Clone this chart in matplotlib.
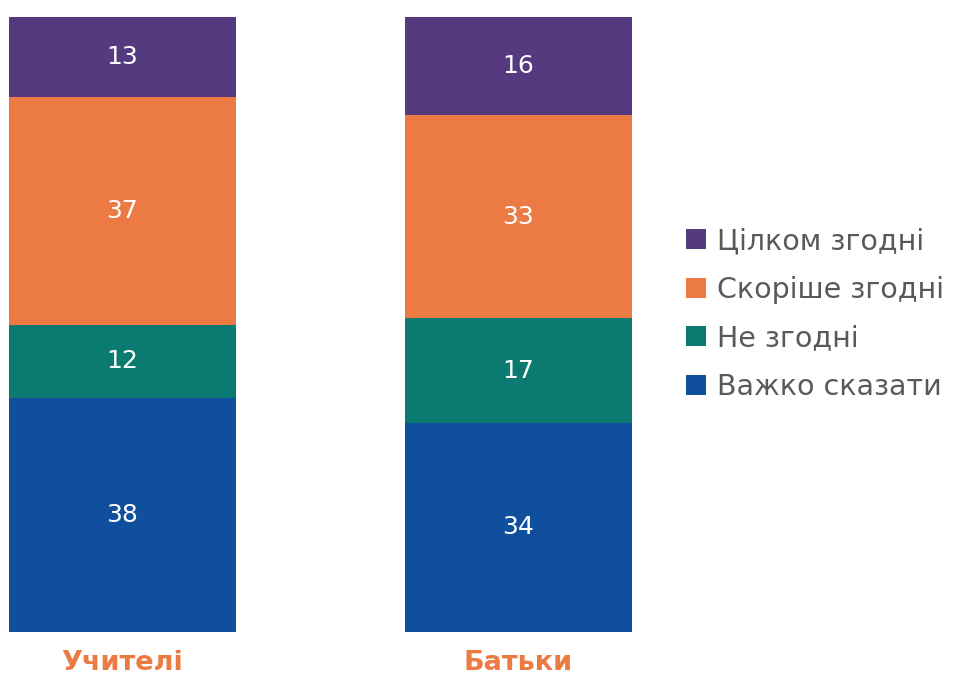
import matplotlib.pyplot as plt
import numpy as np

# data
groups = ["Учителі", "Батьки"]
series = ["Важко сказати", "Не згодні", "Скоріше згодні", "Цілком згодні"]
values = {
    "Важко сказати": [38, 34],
    "Не згодні": [12, 17],
    "Скоріше згодні": [37, 33],
    "Цілком згодні": [13, 16],
}
colors = {
    "Важко сказати": "#0F4F9E",
    "Не згодні": "#0B7A70",
    "Скоріше згодні": "#EB7B43",
    "Цілком згодні": "#563A7F",
}

plt.rcParams['font.family'] = ['DejaVu Sans']

fig = plt.figure(figsize=(9.79, 6.79), dpi=100)
# axes spans the whole width; x data positions mapped to pixel centres
ax = fig.add_axes([0, 47 / 679, 1, 615 / 679])

x = np.arange(len(groups))
bottom = np.zeros(len(groups))
handles = []
for s in series:
    v = np.array(values[s])
    bars = ax.bar(x, v, bottom=bottom, width=227 / 396, color=colors[s], label=s)
    handles.append(bars)
    for xi, vi, bi in zip(x, v, bottom):
        ax.text(xi, bi + vi / 2, str(vi), ha="center", va="center",
                color="white", fontsize=18)
    bottom += v

ax.set_xlim(-122.5 / 396, (979 - 122.5) / 396)
ax.set_ylim(0, 100)
ax.axis("off")

for xi, g in zip(x, groups):
    ax.text(xi, -5.0, g, ha="center", va="center", color="#EB7B43",
            fontsize=19.5, fontweight="semibold")

leg = fig.legend(handles[::-1], series[::-1], loc="center left",
                 bbox_to_anchor=(686 / 979, 1 - 314 / 679), frameon=False,
                 fontsize=20.5, handlelength=0.7, handleheight=0.7,
                 handletextpad=0.4, labelspacing=0.72, borderaxespad=0,
                 borderpad=0)
for t in leg.get_texts():
    t.set_color("#595959")

fig.savefig("out.png", dpi=100)
